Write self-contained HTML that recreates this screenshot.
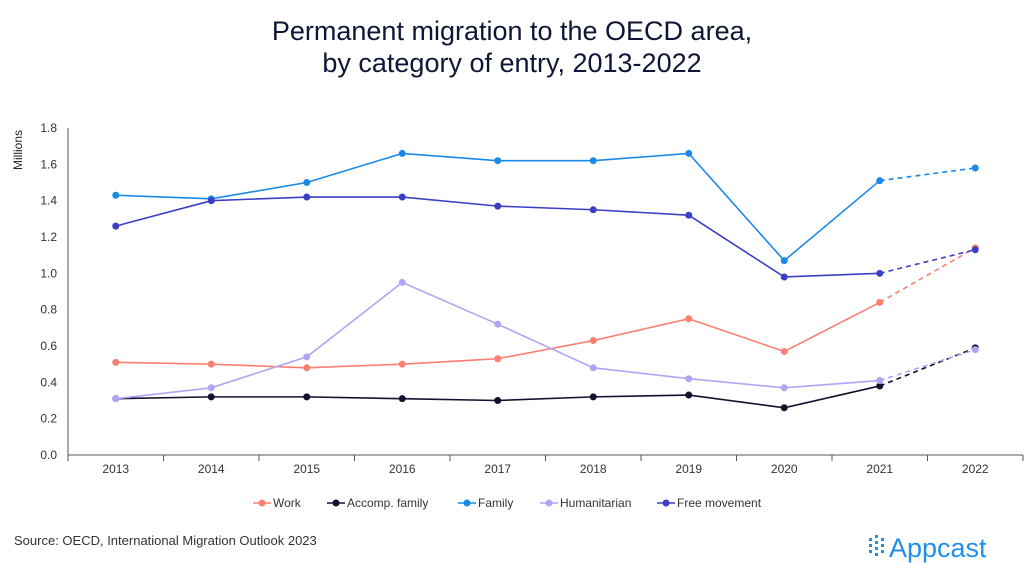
<!DOCTYPE html>
<html><head><meta charset="utf-8"><style>
body{margin:0;width:1024px;height:576px;background:#fff;font-family:"Liberation Sans",sans-serif;overflow:hidden}
</style></head><body>
<svg id="c" width="1024" height="576" xmlns="http://www.w3.org/2000/svg">
<text x="512" y="40" text-anchor="middle" font-size="27" fill="#0f1535">Permanent migration to the OECD area,</text>
<text x="512" y="72" text-anchor="middle" font-size="27" fill="#0f1535">by category of entry, 2013-2022</text>
<text transform="translate(22,150) rotate(-90)" text-anchor="middle" font-size="12" fill="#222">Millions</text>
<g id="axes"></g><g id="series"></g><g id="legend"></g>
<text x="14" y="545" font-size="13" fill="#333">Source: OECD, International Migration Outlook 2023</text>
<g>
<g fill="#1f8fe8"><rect x="869" y="538" width="3" height="3"/><rect x="869" y="544" width="3" height="3"/><rect x="869" y="550" width="3" height="3"/><rect x="875" y="535" width="3" height="3"/><rect x="875" y="541" width="3" height="3"/><rect x="875" y="547" width="3" height="3"/><rect x="875" y="553" width="3" height="3"/><rect x="881" y="538" width="3" height="3"/><rect x="881" y="544" width="3" height="3"/><rect x="881" y="550" width="3" height="3"/></g>
<text x="889" y="557" font-size="27" fill="#1f8fe8">Appcast</text></g>
</svg>
<script>
const years=["2013","2014","2015","2016","2017","2018","2019","2020","2021","2022"];
const yTicks=[0,0.2,0.4,0.6,0.8,1.0,1.2,1.4,1.6,1.8];
const work=[0.51,0.50,0.48,0.50,0.53,0.63,0.75,0.57,0.84,1.14];
const accomp=[0.31,0.32,0.32,0.31,0.30,0.32,0.33,0.26,0.38,0.59];
const family=[1.43,1.41,1.50,1.66,1.62,1.62,1.66,1.07,1.51,1.58];
const humanitarian=[0.31,0.37,0.54,0.95,0.72,0.48,0.42,0.37,0.41,0.58];
const freeMove=[1.26,1.40,1.42,1.42,1.37,1.35,1.32,0.98,1.00,1.13];
const seriesNames=["Work","Accomp. family","Family","Humanitarian","Free movement"];
const NS="http://www.w3.org/2000/svg";
const L=68,R=1023,T=128,B=455,step=(R-L)/years.length;
const x=i=>L+step*(i+0.5), y=v=>B-(v/1.8)*(B-T);
function mk(t,a,p){const e=document.createElementNS(NS,t);for(const k in a)e.setAttribute(k,a[k]);p.appendChild(e);return e;}
const ax=document.getElementById('axes');
yTicks.forEach(v=>{const t=mk('text',{x:57,y:y(v)+4,'text-anchor':'end','font-size':12,fill:'#333'},ax);t.textContent=v.toFixed(1);

});
mk('line',{x1:L,y1:T,x2:L,y2:B,stroke:'#555'},ax);
mk('line',{x1:L,y1:B,x2:R,y2:B,stroke:'#555'},ax);
for(let i=0;i<=years.length;i++)mk('line',{x1:L+step*i,y1:B,x2:L+step*i,y2:B+6,stroke:'#555'},ax);
years.forEach((yr,i)=>{const t=mk('text',{x:x(i),y:B+18,'text-anchor':'middle','font-size':12,fill:'#333'},ax);t.textContent=yr;

});
const data=[work,accomp,family,humanitarian,freeMove];
const colors=["#fa8072","#12122e","#1a8ae8","#b0a4f7","#3b3fc4"];
const keys=["work","accomp-family","family","humanitarian","free-movement"];
const sg=document.getElementById('series');
data.forEach((d,s)=>{const g=mk('g',{},sg);


const pts=d.slice(0,9).map((v,i)=>x(i)+','+y(v)).join(' ');
mk('polyline',{points:pts,fill:'none',stroke:colors[s],'stroke-width':1.6},g);
mk('line',{x1:x(8),y1:y(d[8]),x2:x(9),y2:y(d[9]),stroke:colors[s],'stroke-width':1.6,'stroke-dasharray':'5,4'},g);
d.forEach((v,i)=>{const c=mk('circle',{cx:x(i),cy:y(v),r:3.5,fill:colors[s]},g);

});
});
const lg=document.getElementById('legend');
const lx=[253,327,458,540,657];
seriesNames.forEach((n,s)=>{const g=mk('g',{},lg);


mk('line',{x1:lx[s],y1:503,x2:lx[s]+18,y2:503,stroke:colors[s],'stroke-width':1.6},g);
mk('circle',{cx:lx[s]+9,cy:503,r:3.5,fill:colors[s]},g);
const t=mk('text',{x:lx[s]+20,y:507,'font-size':12,fill:'#333'},g);t.textContent=n;});
</script>
</body></html>
